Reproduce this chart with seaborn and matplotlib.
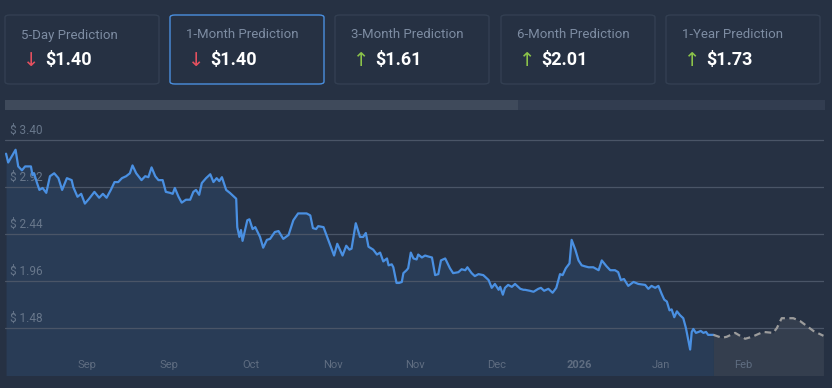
import matplotlib
matplotlib.use("Agg")
import matplotlib.pyplot as plt
from matplotlib.patches import FancyBboxPatch, Rectangle
import seaborn as sns
import pandas as pd

# prediction cards
card_titles = ["5-Day Prediction", "1-Month Prediction", "3-Month Prediction",
               "6-Month Prediction", "1-Year Prediction"]
card_values = ["$1.40", "$1.40", "$1.61", "$2.01", "$1.73"]
card_up = [False, False, True, True, True]
active_card = 1

# price history (day index, price)
hist_day = [0.2, 0.6, 2.0, 2.5, 3.2, 3.8, 4.9, 5.2, 5.5, 6.0, 6.5, 7.1, 7.8, 8.5, 9.3,
            10.1, 10.8, 11.7, 12.6, 12.9, 13.7, 14.4, 15.1, 15.9, 16.9, 17.8, 18.5,
            19.2, 20.0, 20.7, 21.4, 22.1, 22.9, 23.6, 24.1, 24.8, 25.8, 26.5, 27.1,
            27.7, 28.4, 29.0, 29.8, 30.4, 31.2, 31.7, 32.1, 32.8, 33.4, 34.2, 35.0,
            35.6, 36.1, 36.7, 37.2, 38.0, 38.8, 39.4, 40.0, 40.5, 41.0, 41.8, 42.5,
            43.7, 43.9, 44.3, 44.6, 44.9, 45.8, 46.2, 46.8, 47.3, 48.2, 48.8, 49.5,
            50.1, 51.0, 51.7, 52.6, 53.6, 54.5, 55.4, 56.3, 57.0, 57.7, 58.2, 58.8,
            59.2, 60.2, 61.1, 62.2, 62.8, 63.8, 64.5, 65.1, 65.5, 66.3, 67.1, 67.7,
            68.2, 68.7, 69.6, 70.3, 70.9, 71.5, 72.2, 72.5, 73.1, 73.4, 74.0, 74.5,
            75.0, 75.3, 75.9, 76.2, 76.7, 77.2, 77.8, 78.1, 78.8, 79.4, 80.0, 80.7,
            81.3, 81.9, 82.4, 83.2, 84.1, 84.7, 85.7, 86.3, 87.0, 87.4, 88.2, 88.8,
            89.5, 90.4, 91.4, 92.0, 92.6, 93.3, 93.6, 94.1, 94.5, 95.1, 95.8, 96.4,
            97.4, 98.0, 98.3, 99.2, 99.9, 100.8, 101.3, 101.9, 102.7, 103.5, 104.2,
            104.6, 104.9, 105.4, 106.0, 106.7, 107.1, 107.8, 108.4, 109.0, 109.6,
            110.3, 111.2, 112.2, 112.8, 113.7, 114.4, 115.3, 115.9, 116.4, 117.0,
            117.8, 118.8, 119.7, 121.0, 121.6, 122.2, 122.9, 123.5, 124.1, 124.6,
            125.1, 125.6, 126.0, 126.5, 127.0, 127.6, 128.2, 128.7, 129.2, 129.5,
            129.8, 130.1, 130.6, 131.1, 131.5, 132.0, 132.5, 132.9, 133.9]
hist_price = [3.26, 3.17, 3.30, 3.13, 3.09, 3.13, 3.13, 3.04, 3.06, 2.97, 2.89, 2.91,
              2.86, 3.03, 3.06, 3.01, 2.89, 3.01, 2.99, 2.92, 2.82, 2.85, 2.75, 2.80,
              2.87, 2.81, 2.85, 2.81, 2.89, 2.97, 2.97, 3.01, 3.03, 3.06, 3.14, 3.06,
              2.99, 3.03, 3.02, 3.12, 3.03, 2.99, 2.99, 2.87, 2.86, 2.85, 2.91, 2.82,
              2.76, 2.79, 2.79, 2.87, 2.89, 2.84, 2.96, 3.01, 3.05, 2.97, 3.01, 2.98,
              3.02, 2.89, 2.86, 2.80, 2.51, 2.41, 2.48, 2.37, 2.58, 2.59, 2.49, 2.51,
              2.41, 2.30, 2.38, 2.39, 2.46, 2.47, 2.39, 2.43, 2.58, 2.65, 2.65, 2.65,
              2.63, 2.50, 2.49, 2.52, 2.51, 2.38, 2.22, 2.34, 2.22, 2.32, 2.28, 2.29,
              2.55, 2.41, 2.41, 2.45, 2.31, 2.28, 2.23, 2.25, 2.16, 2.19, 2.12, 2.13,
              2.10, 1.94, 1.94, 1.95, 2.04, 2.07, 2.09, 2.25, 2.19, 2.18, 2.23, 2.20,
              2.22, 2.21, 2.20, 2.02, 2.03, 2.17, 2.19, 2.09, 2.04, 2.05, 2.08, 2.07,
              2.10, 2.04, 2.01, 2.03, 2.02, 1.97, 1.89, 1.93, 1.87, 1.90, 1.82, 1.89,
              1.92, 1.90, 1.93, 1.88, 1.87, 1.87, 1.86, 1.85, 1.88, 1.89, 1.86, 1.88,
              1.84, 1.89, 1.97, 2.03, 2.02, 2.09, 2.14, 2.38, 2.28, 2.17, 2.12, 2.11,
              2.10, 2.10, 2.07, 2.17, 2.11, 2.07, 2.07, 2.05, 1.97, 1.98, 1.91, 1.95,
              1.93, 1.92, 1.88, 1.91, 1.89, 1.91, 1.83, 1.77, 1.75, 1.66, 1.67, 1.59,
              1.65, 1.61, 1.58, 1.48, 1.34, 1.26, 1.44, 1.47, 1.43, 1.44, 1.45, 1.43,
              1.44, 1.41, 1.41]

# forecast
fc_day = [133.9, 135.5, 136.4, 138.0, 139.9, 141.2, 143.3, 145.2, 145.9, 146.8,
          149.0, 150.3, 152.8, 154.7]
fc_price = [1.41, 1.38, 1.39, 1.43, 1.37, 1.39, 1.44, 1.43, 1.48, 1.58, 1.58, 1.55,
            1.45, 1.40]

y_levels = [1.48, 1.96, 2.44, 2.92, 3.40]
x_tick_days = [15.5, 31.0, 46.5, 62.0, 77.5, 93.0, 108.5, 124.0, 139.5]
x_tick_labels = ["Sep", "Sep", "Oct", "Nov", "Nov", "Dec", "2026", "Jan", "Feb"]

BG = "#263143"
sns.set_style("dark")
plt.rcParams["font.family"] = ["Roboto", "DejaVu Sans"]

W, H = 832, 388
fig = plt.figure(figsize=(W / 100, H / 100), dpi=100)
fig.patch.set_facecolor(BG)

# cards
card_x = [5, 170, 335, 501, 666]
for i, cx in enumerate(card_x):
    ec = "#4a8fdf" if i == active_card else "#333f52"
    box = FancyBboxPatch((cx / W, 1 - 84 / H), 154 / W, 69 / H,
                         boxstyle="round,pad=0,rounding_size=0.006",
                         transform=fig.transFigure, facecolor=BG, edgecolor=ec,
                         linewidth=1.0)
    fig.add_artist(box)
    fig.text((cx + 16) / W, 1 - 35 / H, card_titles[i], color="#7d8ca2",
             fontsize=9.5, va="center", ha="left")
    arrow = "↑" if card_up[i] else "↓"
    acol = "#8bc34a" if card_up[i] else "#e5505f"
    fig.text((cx + 18) / W, 1 - 61 / H, arrow, color=acol, fontsize=14,
             va="center", ha="left", family=["DejaVu Sans"])
    fig.text((cx + 40) / W, 1 - 60 / H, card_values[i], color="white",
             fontsize=13, fontweight="bold", va="center", ha="left")

# scrollbar
fig.add_artist(Rectangle((5 / W, 1 - 110 / H), 820 / W, 10 / H,
                         transform=fig.transFigure, color="#323d50", lw=0))
fig.add_artist(Rectangle((5 / W, 1 - 110 / H), 513 / W, 10 / H,
                         transform=fig.transFigure, color="#3f4a5b", lw=0))

# main chart
ax = fig.add_axes([5 / W, 13 / H, 819 / W, 260 / H])
ax.set_facecolor(BG)
hist = pd.DataFrame({"day": hist_day, "price": hist_price})
fc = pd.DataFrame({"day": fc_day, "price": fc_price})

ax.fill_between(hist["day"], hist["price"], 0, color="#293c56", lw=0, zorder=1)
ax.fill_between(fc["day"], fc["price"], 0, color="#343e4e", lw=0, zorder=1)
for lv in y_levels:
    ax.axhline(lv, color="#4a5567", lw=0.9, zorder=2)
    ax.text(5 / 819, lv + 0.10, f"$ {lv:.2f}", transform=ax.get_yaxis_transform(),
            color="#68778b", fontsize=8.5, va="center", ha="left", zorder=3)

sns.lineplot(data=hist, x="day", y="price", ax=ax, color="#4a90e2", lw=1.6,
             sort=False, zorder=4)
sns.lineplot(data=fc, x="day", y="price", ax=ax, color="#9c9c9c", lw=1.6,
             sort=False, zorder=4, dashes=False, linestyle=(0, (3, 2)))

for d, lab in zip(x_tick_days, x_tick_labels):
    ax.text(d, 0.04, lab, transform=ax.get_xaxis_transform(), color="#5f6d81",
            fontsize=8, va="center", ha="center",
            fontweight="bold" if lab == "2026" else "normal", zorder=3)

ax.set_xlim(0, 154.8)
ax.set_ylim(1.0, 3.655)
ax.set_xticks([])
ax.set_yticks([])
ax.set_xlabel("")
ax.set_ylabel("")
ax.grid(False)
for s in ax.spines.values():
    s.set_visible(False)

fig.savefig("out.png", dpi=100, facecolor=BG)
